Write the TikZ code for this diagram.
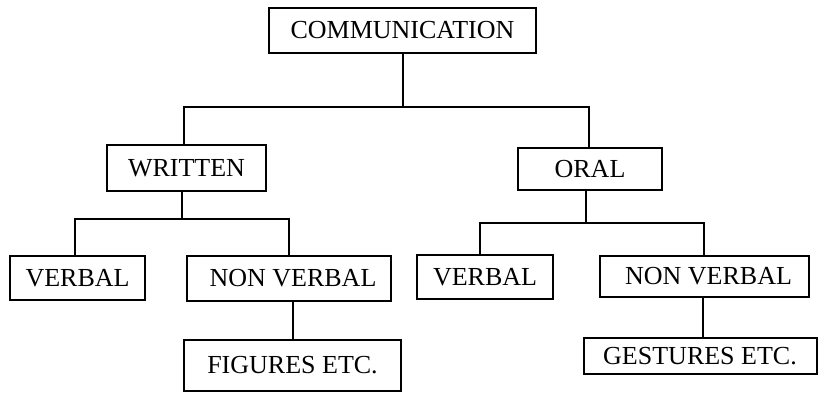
\documentclass[tikz,border=0pt]{standalone}
\usepackage{fontspec}
\setmainfont{Liberation Serif}
\begin{document}
\begin{tikzpicture}[x=1pt,y=-1pt,
  boxx/.style={draw, line width=2pt, inner sep=0pt, align=center,
    font=\fontsize{26}{31}\selectfont},
  link/.style={line width=2pt}]
\useasboundingbox (0,0) rectangle (818,393);
\node[boxx, minimum width=267pt, minimum height=45pt] (comm) at (402.5,30.5) {COMMUNICATION};
\node[boxx, minimum width=159pt, minimum height=46pt] (written) at (186.5,168) {WRITTEN};
\node[boxx, minimum width=144pt, minimum height=42pt] (oral) at (590,169) {ORAL};
\node[boxx, minimum width=135pt, minimum height=44pt] (verbl) at (77.5,278) {VERBAL};
\node[boxx, minimum width=204pt, minimum height=45pt] (nonl) at (289,278.5) {\hspace{8pt}NON VERBAL};
\node[boxx, minimum width=136pt, minimum height=44pt] (verbr) at (485,277) {VERBAL};
\node[boxx, minimum width=209pt, minimum height=41pt] (nonr) at (704.5,276.5) {\hspace{8pt}NON VERBAL};
\node[boxx, minimum width=217pt, minimum height=51pt] (fig) at (292.5,365.5) {FIGURES ETC.};
\node[boxx, minimum width=233pt, minimum height=36pt] (gest) at (700,356) {GESTURES ETC.};
\coordinate (b1) at (0,107);
\coordinate (b2) at (0,219);
\coordinate (b3) at (0,223);
\draw[link] ([xshift=0.5pt]comm.south) -- ([xshift=0.5pt]comm.south |- b1);
\draw[link] ([xshift=-2.5pt]written.north) |- ([xshift=-1pt]oral.north |- b1) -- ([xshift=-1pt]oral.north);
\draw[link] ([xshift=-4.5pt]written.south) -- ([xshift=-4.5pt]written.south |- b2);
\draw[link] ([xshift=-2.5pt]verbl.north) |- (nonl.north |- b2) -- (nonl.north);
\draw[link] ([xshift=-4pt]oral.south) -- ([xshift=-4pt]oral.south |- b3);
\draw[link] ([xshift=-5pt]verbr.north) |- ([xshift=-0.5pt]nonr.north |- b3) -- ([xshift=-0.5pt]nonr.north);
\draw[link] ([xshift=4pt]nonl.south) -- ([xshift=4pt]nonl.south |- fig.north);
\draw[link] ([xshift=-1.5pt]nonr.south) -- ([xshift=-1.5pt]nonr.south |- gest.north);
\end{tikzpicture}
\end{document}
